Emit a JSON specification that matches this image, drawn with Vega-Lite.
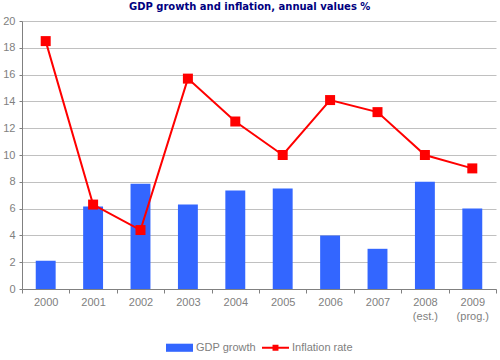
{
  "$schema": "https://vega.github.io/schema/vega-lite/v6.json",
  "autosize": {"type": "fit", "contains": "padding"},
  "width": 500,
  "height": 360,
  "padding": {"left": 2, "right": 3, "top": 2, "bottom": 7},
  "background": "white",
  "title": {
    "text": "GDP growth and inflation, annual values %",
    "font": "DejaVu Sans",
    "fontSize": 10,
    "fontWeight": "bold",
    "color": "#000080",
    "anchor": "middle",
    "frame": "bounds",
    "offset": 3
  },
  "config": {
    "view": {"stroke": null},
    "axis": {
      "labelFont": "Liberation Sans",
      "labelFontSize": 11,
      "labelColor": "#808080",
      "domainColor": "#808080",
      "tickColor": "#808080",
      "gridColor": "#c0c0c0",
      "title": null
    },
    "legend": {
      "layout": {"bottom": {"anchor": "middle"}}
    }
  },
  "data": {
    "values": [
      {"year": "2000", "gdp": 2.1, "infl": 18.5},
      {"year": "2001", "gdp": 6.15, "infl": 6.3},
      {"year": "2002", "gdp": 7.85, "infl": 4.4},
      {"year": "2003", "gdp": 6.3, "infl": 15.7},
      {"year": "2004", "gdp": 7.35, "infl": 12.5},
      {"year": "2005", "gdp": 7.5, "infl": 10.0},
      {"year": "2006", "gdp": 4.0, "infl": 14.1},
      {"year": "2007", "gdp": 3.0, "infl": 13.2},
      {"year": "2008|(est.)", "gdp": 8.0, "infl": 10.0},
      {"year": "2009|(prog.)", "gdp": 6.0, "infl": 9.0}
    ]
  },
  "encoding": {
    "x": {
      "field": "year",
      "type": "nominal",
      "sort": null,
      "scale": {"paddingInner": 0, "paddingOuter": 0},
      "axis": {
        "labelAngle": 0,
        "labelExpr": "isValid(datum.value) ? split(datum.value, '|') : ''",
        "tickBand": "extent",
        "tickSize": 4,
        "labelPadding": 3,
        "labelLineHeight": 14,
        "grid": false
      }
    }
  },
  "layer": [
    {
      "mark": {"type": "bar", "width": {"band": 0.42}},
      "encoding": {
        "y": {
          "field": "gdp",
          "type": "quantitative",
          "scale": {"domain": [0, 20]},
          "axis": {"values": [0, 2, 4, 6, 8, 10, 12, 14, 16, 18, 20], "tickSize": 3, "labelPadding": 4}
        },
        "color": {
          "datum": "GDP growth",
          "scale": {"domain": ["GDP growth", "Inflation rate"], "range": ["#3366ff", "#ff0000"]},
          "legend": {
            "title": null,
            "orient": "bottom",
            "direction": "horizontal",
            "labelFont": "Liberation Sans",
            "labelFontSize": 11,
            "labelColor": "#808080",
            "symbolSize": 729,
            "labelOffset": 3,
            "columnPadding": 6,
            "offset": 13,
            "encode": {
              "symbols": {
                "update": {
                  "shape": {"signal": "datum.value === 'GDP growth' ? 'M-1,-0.3H1V0.3H-1Z' : 'M-1,-0.075H1V0.075H-1Z M-0.22,-0.22H0.22V0.22H-0.22Z'"},
                  "fill": {"signal": "datum.value === 'GDP growth' ? '#3366ff' : '#ff0000'"},
                  "strokeWidth": {"value": 0},
                  "fillOpacity": {"value": 1}
                }
              }
            }
          }
        }
      }
    },
    {
      "mark": {"type": "line", "strokeWidth": 2, "point": {"shape": "square", "size": 100, "filled": true, "opacity": 1}},
      "encoding": {
        "y": {
          "field": "infl",
          "type": "quantitative",
          "axis": {"values": [0, 2, 4, 6, 8, 10, 12, 14, 16, 18, 20], "tickSize": 3, "labelPadding": 4}
        },
        "color": {"datum": "Inflation rate"}
      }
    }
  ]
}
